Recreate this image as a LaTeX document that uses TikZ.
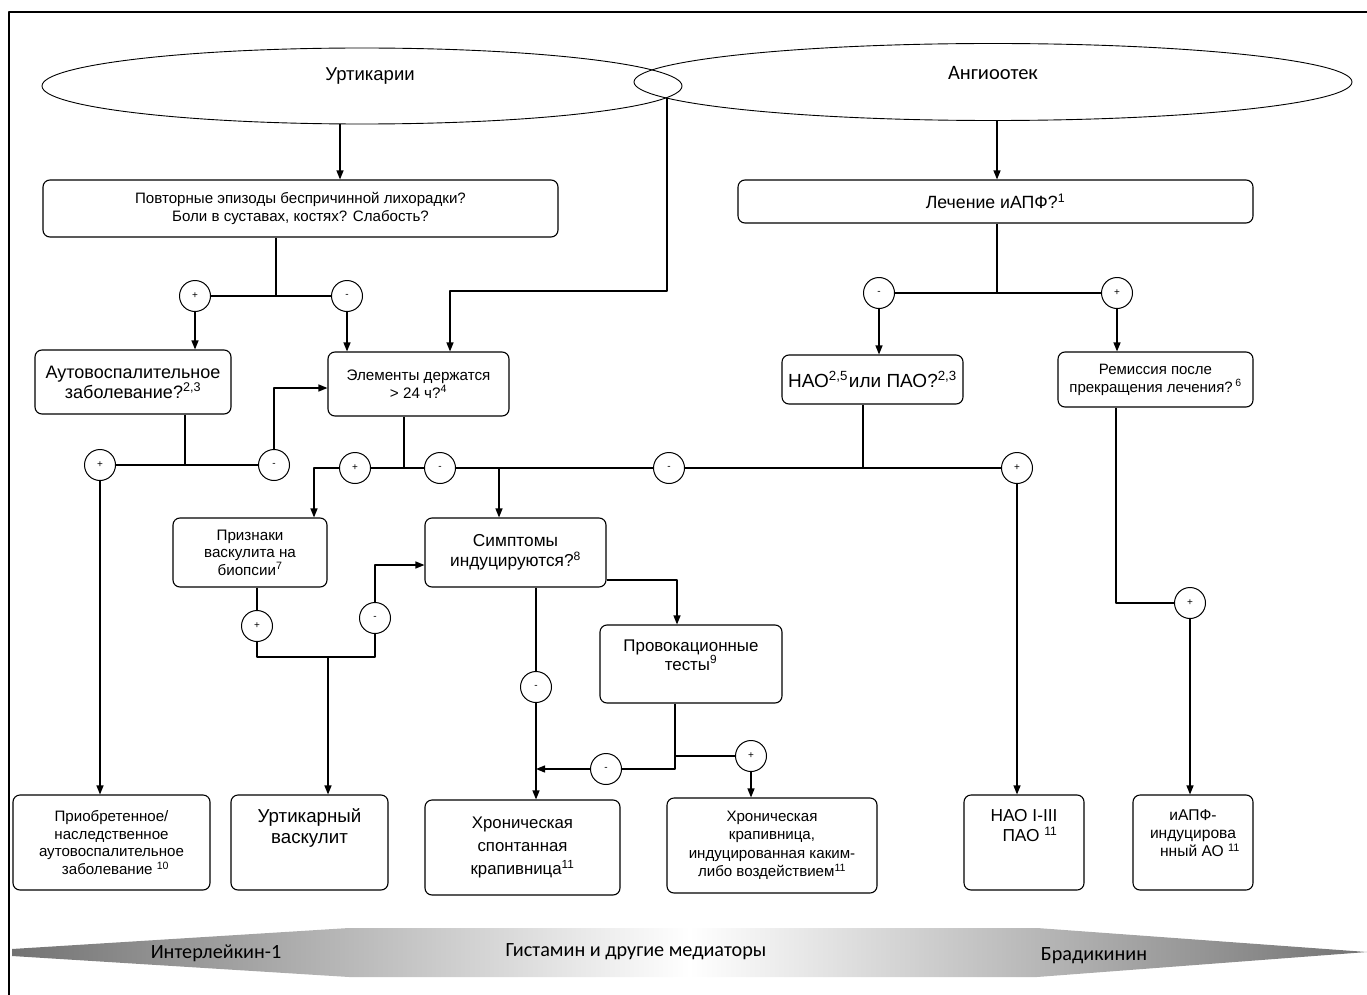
\documentclass[tikz,border=0pt]{standalone}
\usepackage{fontspec}
\setmainfont{Liberation Sans}
\newfontfamily\barfont{Carlito}
\usetikzlibrary{arrows.meta,shapes.geometric}
\newcommand\fs[2]{\fontsize{#1}{#2}\selectfont}
\begin{document}
\begin{tikzpicture}[x=1pt, y=-1pt, line join=round, >={Triangle[length=9pt,width=7pt]},
  box/.style={draw, rounded corners=7pt, line width=1.1pt, align=center, inner sep=2pt},
  oval/.style={draw, ellipse, line width=0.9pt, inner sep=0pt},
  sign/.style={draw, circle, fill=white, minimum size=31pt, inner sep=0pt, line width=1pt, font=\fs{10}{10}},
  link/.style={line width=1.3pt},
  txt/.style={align=center, inner sep=0pt}]
\useasboundingbox (0,0) rectangle (1367,995);
\draw[line width=1.4pt] (9,995) -- (9,12) -- (1367,12); %frame

% ovals
\node[oval, minimum width=640, minimum height=76] (urt) at (362,86) {};
\node[oval, minimum width=718, minimum height=77] (angio) at (993,82) {};
\node[txt, font=\fs{18.5}{21}] (urtT) at (370,76) {Уртикарии};
\node[txt, font=\barfont\fs{20.5}{23}] (angioT) at (993,73) {Ангиоотек};

% questions
\node[box, minimum width=515, minimum height=57, font=\fs{15.1}{17.5}] (fever) at (300.5,208.5) {Повторные эпизоды беспричинной лихорадки?\\Боли в суставах, костях? Слабость?};
\node[box, minimum width=515, minimum height=43, font=\fs{17.7}{20}] (lech) at (995.5,201.5) {Лечение иАПФ?\textsuperscript{1}};
\node[box, minimum width=196, minimum height=64, font=\fs{18}{20}] (auto) at (133,382) {Аутовоспалительное\\заболевание?\textsuperscript{2,3}};
\node[box, minimum width=181, minimum height=64, font=\fs{15.2}{17.5}] (elem) at (418.5,384) {Элементы держатся\\> 24 ч?\textsuperscript{4}};
\node[box, minimum width=181, minimum height=49, font=\fs{19}{22}] (nao) at (872.5,379.5) {НАО\textsuperscript{2,5}\kern1pt или ПАО?\textsuperscript{2,3}};
\node[box, minimum width=195, minimum height=55, font=\fs{15}{18}] (rem) at (1155.5,379.5) {Ремиссия после\\прекращения лечения?\,\textsuperscript{6}};
\node[box, minimum width=154, minimum height=69, font=\fs{15.2}{17.5}] (prizn) at (250,552.5) {Признаки\\васкулита на\\биопсии\textsuperscript{7}};
\node[box, minimum width=181, minimum height=69, font=\fs{17.3}{20}] (sympt) at (515.5,552.5) {Симптомы\\индуцируются?\textsuperscript{8}};
\node[box, minimum width=182, minimum height=78] (prov) at (691,664) {};
\node[txt, font=\fs{16.9}{19}] (provT) at (691,655) {Провокационные\\тесты\textsuperscript{9}};

% outcomes
\node[box, minimum width=197, minimum height=95, font=\fs{15.1}{17.8}] (b1) at (111.5,842.5) {Приобретенное/\\наследственное\\аутовоспалительное\\\hspace*{8pt}заболевание \textsuperscript{10}};
\node[box, minimum width=157, minimum height=95] (b2) at (309.5,842.5) {};
\node[txt, font=\fs{18.7}{21}] (b2T) at (309.5,828) {Уртикарный\\васкулит};
\node[box, minimum width=195, minimum height=95, font=\fs{16.8}{23}] (b3) at (522.5,847.5) {Хроническая\\спонтанная\\крапивница\textsuperscript{11}};
\node[box, minimum width=210, minimum height=95, font=\fs{15.1}{18.5}] (b4) at (772,845.5) {Хроническая\\крапивница,\\индуцированная каким-\\либо воздействием\textsuperscript{11}};
\node[box, minimum width=120, minimum height=95] (b5) at (1024,842.5) {};
\node[txt, font=\fs{17.3}{20}] (b5T) at (1024,826) {НАО I-III\\\hspace*{12pt}ПАО \textsuperscript{11}};
\node[box, minimum width=120, minimum height=95] (b6) at (1193,842.5) {};
\node[txt, font=\fs{15.6}{18}] (b6T) at (1193,833) {иАПФ-\\индуцирова\\\hspace*{14pt}нный АО \textsuperscript{11}};

% signs
\node[sign] (p1) at (195,296) {+};
\node[sign] (m1) at (347,296) {-};
\node[sign] (p2) at (100,465) {+};
\node[sign] (m2) at (274,465) {-};
\node[sign] (p3) at (355,468) {+};
\node[sign] (m3) at (440,468) {-};
\node[sign] (m4) at (669,468) {-};
\node[sign] (p4) at (1017,468) {+};
\node[sign] (m5) at (879,293) {-};
\node[sign] (p5) at (1117,293) {+};
\node[sign] (p6) at (1190,603) {+};
\node[sign] (p7) at (257,626) {+};
\node[sign] (m6) at (375,618) {-};
\node[sign] (m7) at (536,687) {-};
\node[sign] (m8) at (606,769) {-};
\node[sign] (p8) at (751,756) {+};
\coordinate (j1) at (328,657);

% links
\draw[link,->] ([xshift=-22pt]urt.south) -- ([xshift=-22pt]urt.south |- fever.north);
\draw[link,->] ([xshift=4pt]angio.south) -- ([xshift=4pt]angio.south |- lech.north);
\draw[link,->] ([xshift=-326pt,yshift=-16pt]angio.center) -- ++(0,193) -| ([xshift=31.5pt]elem.north);
\draw[link] ([xshift=-24.5pt]fever.south) -- ([xshift=-24.5pt]fever.south |- p1);
\draw[link] (p1) -- (m1);
\draw[link,->] (p1) -- (p1 |- auto.north);
\draw[link,->] (m1) -- (m1 |- elem.north);
\draw[link] ([xshift=52pt]auto.south) -- ([xshift=52pt]auto.south |- p2);
\draw[link] (p2) -- (m2);
\draw[link,->] (p2) -- (p2 |- b1.north);
\draw[link,->] (m2) |- ([yshift=-4pt]elem.west);
\draw[link] ([xshift=-14.5pt]elem.south) -- ([xshift=-14.5pt]elem.south |- p3);
\draw[link,->] (p3) -| ([xshift=64pt]prizn.north);
\draw[link] (p3) -- (m3);
\draw[link,->] (m3) -| ([xshift=-16.5pt]sympt.north);
\draw[link] (m3) -- (m4);
\draw[link] (m4) -- (p4);
\draw[link] ([xshift=-9.5pt]nao.south) -- ([xshift=-9.5pt]nao.south |- p4);
\draw[link,->] (p4) -- (p4 |- b5.north);
\draw[link] ([xshift=1.5pt]lech.south) -- ([xshift=1.5pt]lech.south |- m5);
\draw[link] (m5) -- (p5);
\draw[link,->] (m5) -- (m5 |- nao.north);
\draw[link,->] (p5) -- (p5 |- rem.north);
\draw[link] ([xshift=-39.5pt]rem.south) |- (p6);
\draw[link,->] (p6) -- (p6 |- b6.north);
\draw[link] (prizn.south -| p7) -- (p7);
\draw[link] (p7) |- (j1) -| (m6);
\draw[link,->] (j1) -- (j1 |- b2.north);
\draw[link,->] (m6) |- ([yshift=-12.5pt]sympt.west);
\draw[link] (sympt.south -| m7) -- (m7);
\draw[link,->] (m7) -- (m7 |- b3.north);
\draw[link,->] ([yshift=-27.5pt]sympt.east) -| ([xshift=-14pt]prov.north);
\draw[link] ([xshift=-16pt]prov.south) |- (m8);
\draw[link,->] (m8) -- (m8 -| m7);
\draw[link] ([xshift=-16pt]prov.south |- p8) -- (p8);
\draw[link,->] (p8) -- (p8 |- b4.north);

% mediator bar
\shade[left color=black!55, right color=black!55, middle color=white] (12,949) -- (349,928) -- (1037,928) -- (1367,952) -- (1037,977) -- (349,977) -- (12,956) -- cycle;
\node[font=\barfont\fs{20.2}{22}] (il) at (216,953) {Интерлейкин-1};
\node[font=\barfont\fs{20.2}{22}] (hist) at (636,952) {Гистамин и другие медиаторы};
\node[font=\barfont\fs{20.2}{22}] (brad) at (1094,956) {Брадикинин};
\end{tikzpicture}
\end{document}
